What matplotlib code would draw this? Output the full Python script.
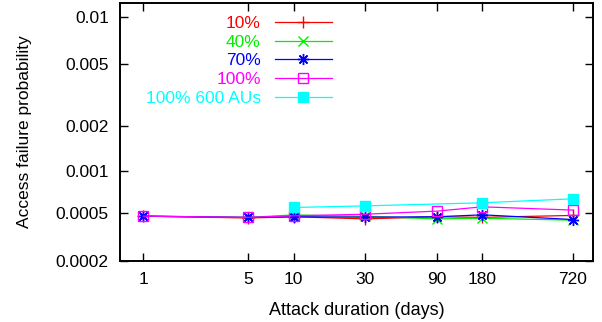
import matplotlib

matplotlib.use("Agg")
import matplotlib.pyplot as plt
import numpy as np

# Attack duration (days) and access failure probability per attack coverage
days = [1, 5, 10, 30, 90, 180, 720]
p10 = [0.00047, 0.000455, 0.000465, 0.000448, 0.000465, 0.00046, 0.000476]
p40 = [0.00047, 0.00046, 0.00048, 0.000468, 0.000448, 0.000453, 0.000438]
p70 = [0.00047, 0.00046, 0.000465, 0.000462, 0.000465, 0.000481, 0.000443]
p100 = [0.00047, 0.00046, 0.000473, 0.000486, 0.000513, 0.000552, 0.000522]
days_600 = [10, 30, 180, 720]
p100_600 = [0.000546, 0.000561, 0.000591, 0.000632]

x_ticks = [1, 5, 10, 30, 90, 180, 720]
y_ticks = [0.01, 0.005, 0.002, 0.001, 0.0005, 0.0002]
y_labels = ["0.01", "0.005", "0.002", "0.001", "0.0005", "0.0002"]

plt.rcParams["font.family"] = ["Liberation Sans", "DejaVu Sans"]
plt.rcParams["font.size"] = 12

_OFF = 1e-4


def _fwd(p):
    return np.log10(np.clip(np.asarray(p, dtype=float) + _OFF, 1e-12, None))


def _inv(v):
    return 10 ** np.asarray(v, dtype=float) - _OFF


fig = plt.figure(figsize=(6.02, 3.22), dpi=100)
ax = fig.add_axes([0.1993, 0.1904, 0.7857, 0.8003])

lw = 0.9
ax.plot(days, p10, color="#ff0000", marker="+", ms=8, mew=1, lw=lw, label="10%")
ax.plot(days, p40, color="#00ee00", marker="x", ms=6.5, mew=1, lw=lw, label="40%")
ax.plot(days, p70, color="#0000ff", marker=(8, 2, 0), ms=8, mew=1, lw=lw, label="70%")
ax.plot(days, p100, color="#ff00ff", marker="s", ms=7, mew=1, fillstyle="none",
        lw=lw, label="100%")
ax.plot(days_600, p100_600, color="#00ffff", marker="s", ms=7, lw=lw,
        label="100% 600 AUs")

ax.set_xscale("log")
ax.set_yscale("function", functions=(_fwd, _inv))
ax.set_xlim(0.7, 980)
ax.set_ylim(0.0002, 0.0122)

ax.set_xticks(x_ticks)
ax.set_xticklabels([str(v) for v in x_ticks])
ax.set_yticks(y_ticks)
ax.set_yticklabels(y_labels)
ax.minorticks_off()
ax.tick_params(which="both", direction="in", length=6, width=1,
               top=True, right=True, labelsize=12.5, pad=8)
for s in ax.spines.values():
    s.set_linewidth(1.4)

ax.set_xlabel("Attack duration (days)", fontsize=13, labelpad=11)
ax.set_ylabel("Access failure probability", fontsize=12.5, labelpad=17)

leg = ax.legend(loc="upper right", bbox_to_anchor=(332 / 602, 1 - 16 / 322),
                bbox_transform=fig.transFigure, frameon=False, markerfirst=False,
                labelcolor="linecolor", fontsize=12.5, handlelength=3.3,
                handletextpad=0.8, labelspacing=0.2, borderpad=0,
                borderaxespad=0, alignment="right")
for t in leg.get_texts():
    t.set_ha("right")

fig.savefig("out.png", dpi=100, facecolor="white")
